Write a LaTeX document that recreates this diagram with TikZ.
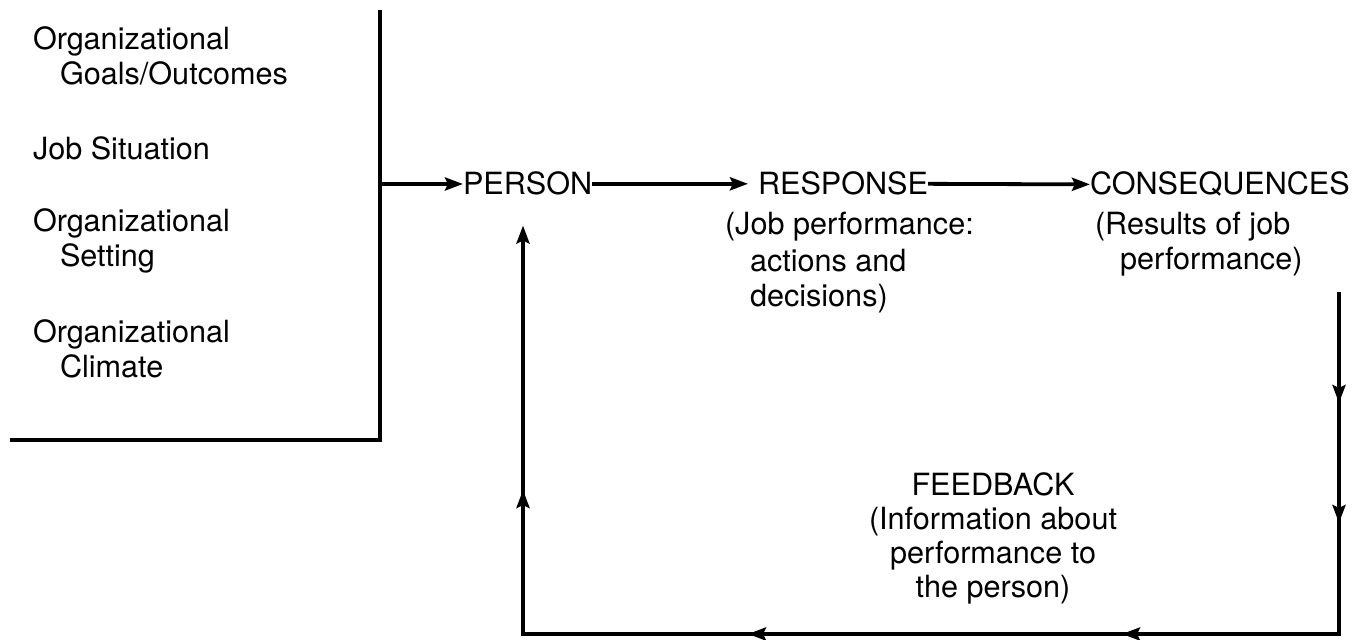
\documentclass[tikz,border=0pt]{standalone}
\usepackage{fontspec}
\setmainfont{TeX Gyre Heros}
\usetikzlibrary{arrows.meta,decorations.markings}
\begin{document}
\begin{tikzpicture}[x=0.5pt,y=0.5pt]
\definecolor{fillColor}{RGB}{255,255,255}
\definecolor{drawColor}{RGB}{0,0,0}
\tikzset{
  lbl/.style={text=drawColor,anchor=base west,inner sep=0pt,outer sep=0pt,font=\fontsize{15.3}{18}\selectfont},
  ctr/.style={lbl,anchor=base},
  flow/.style={draw=drawColor,line width=1.9pt,line join=miter},
  tip/.style={-{Stealth[length=9pt,width=6.5pt,inset=1.5pt]}},
  midtip/.style={postaction={decorate,decoration={markings,mark=at position #1 with {\arrow{Stealth[length=9pt,width=6.5pt,inset=1.5pt]}}}}}
}
\path[use as bounding box,fill=fillColor] (0,0) rectangle (1353,640);

% left box of conditions
\node[lbl] (goalsa) at ( 33,590) {Organizational};
\node[lbl] (goalsb) at ( 60,555) {Goals/Outcomes};
\node[lbl] (situation) at ( 33,480) {Job Situation};
\node[lbl] (settinga) at ( 33,408) {Organizational};
\node[lbl] (settingb) at ( 60,373) {Setting};
\node[lbl] (climatea) at ( 33,297) {Organizational};
\node[lbl] (climateb) at ( 60,262) {Climate};

\coordinate (boxtop) at (380,630);
\coordinate (boxcorner) at (380,200);
\coordinate (boxleft) at ( 10,200);
\coordinate (boxout) at (380,456);
\path[flow] (boxtop) -- (boxcorner) -- (boxleft);

% main chain
\node[lbl] (person) at (463,445) {PERSON};
\node[lbl] (response) at (758,445) {RESPONSE};
\node[lbl] (conseq) at (1090,445) {CONSEQUENCES};

\path[flow,tip] (boxout) -- (boxout -| person.west);
\path[flow,tip,shorten >=5pt] (person.east) -- (response.west);
\path[flow,tip] (response.east) -- (conseq.west);

\node[lbl] (respa) at (725,405) {(Job performance:};
\node[lbl] (respb) at (750,368) {actions and};
\node[lbl] (respc) at (750,333) {decisions)};

\node[lbl] (consa) at (1095,405) {(Results of job};
\node[lbl] (consb) at (1120,370) {performance)};

% feedback loop
\node[ctr] (fbhead) at (993,144) {FEEDBACK};
\node[ctr] (fbinfo) at (993,110) {(Information about};
\node[ctr] (fbperf) at (993, 76) {performance to};
\node[ctr] (fbpers) at (993, 42) {the person)};

\coordinate (fbtop) at (1339,348);
\coordinate (fbcorner) at (1339,6);
\coordinate (fbleft) at (523,6);
\path[flow,tip,shorten >=15pt,midtip=55.5pt,midtip=115.5pt,midtip=279.5pt,midtip=466.5pt,midtip=651pt]
  (fbtop) -- (fbcorner) -- (fbleft) -- (fbleft |- person.south);
\end{tikzpicture}
\end{document}
